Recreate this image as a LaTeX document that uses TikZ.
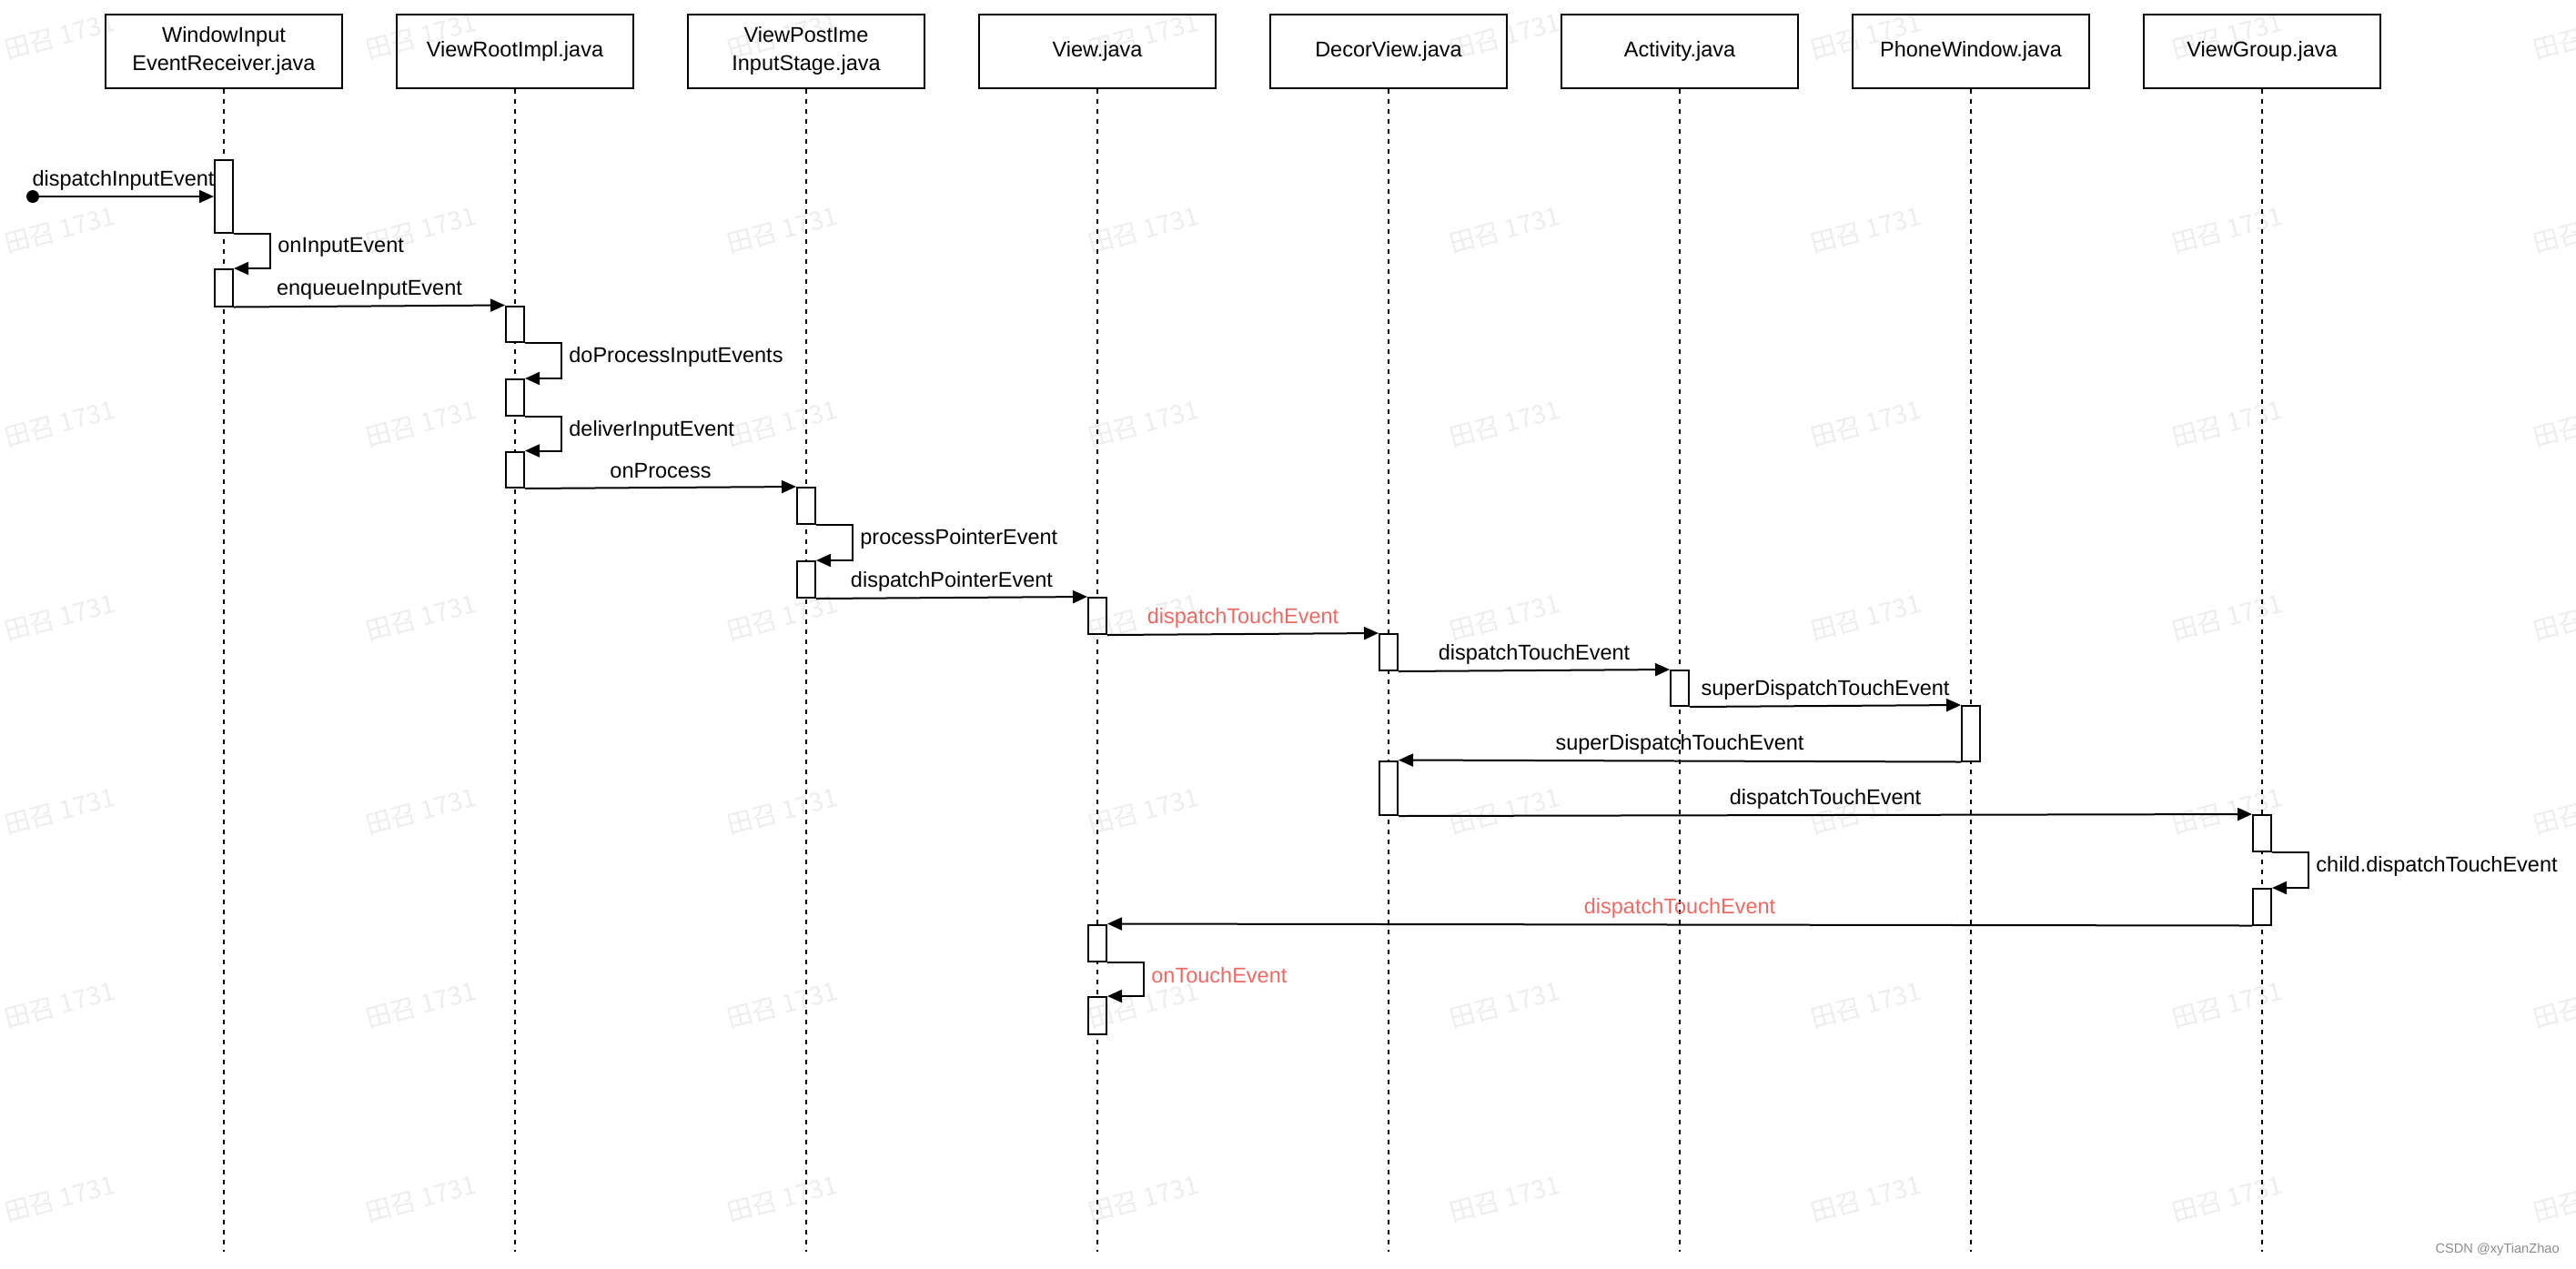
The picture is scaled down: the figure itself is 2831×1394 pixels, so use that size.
\documentclass[tikz,border=0pt]{standalone}
\usepackage{fontspec}
\setmainfont{Liberation Sans}
\newfontfamily\cjk{Noto Sans CJK SC}
\usetikzlibrary{arrows.meta,fit}
\definecolor{msgred}{RGB}{234,107,102}
\tikzset{
  txt/.style={font=\fontsize{11.75pt}{15.5pt}\selectfont},
  head/.style={txt, draw, line width=1pt, minimum width=130pt, minimum height=40.5pt, align=center, inner sep=0pt},
  lifeline/.style={line width=0.9pt, dash pattern=on 2.5pt off 3pt},
  act/.style={draw, line width=1pt, fill=white, inner sep=0pt},
  msg/.style={line width=1pt, -{Triangle[length=8pt,width=7pt]}},
  lbl/.style={txt, midway, yshift=9pt, inner sep=0pt},
  selflbl/.style={txt, anchor=west, inner sep=0pt},
  wm/.style={font=\cjk\fontsize{14pt}{14pt}\selectfont, text=black, text opacity=0.07, rotate=15, inner sep=0pt},
}
\begin{document}
\begin{tikzpicture}[x=0.5pt,y=-0.5pt]
\useasboundingbox (0,0) rectangle (2831,1394);
\fill[white] (0,0) rectangle (2831,1394);

% headers
\node[head] (h1) at (246,56.2) {WindowInput\\EventReceiver.java};
\node[head] (h2) at (566,56.2) {ViewRootImpl.java};
\node[head] (h3) at (886,56.2) {ViewPostIme\\InputStage.java};
\node[head] (h4) at (1206,56.2) {View.java};
\node[head] (h5) at (1526,56.2) {DecorView.java};
\node[head] (h6) at (1846,56.2) {Activity.java};
\node[head] (h7) at (2166,56.2) {PhoneWindow.java};
\node[head] (h8) at (2486,56.2) {ViewGroup.java};

% lifelines
\coordinate (bot) at (0,1376);
\foreach \i in {1,...,8}{
  \draw[lifeline] (h\i.south) -- (h\i.south |- bot);
}

% activations
\node[act, fit={(236,176)(256,256)}] (a1) {};
\node[act, fit={(236,296)(256,336.5)}] (a2) {};
\node[act, fit={(556,336.5)(576,376)}] (a3) {};
\node[act, fit={(556,417)(576,457)}] (a4) {};
\node[act, fit={(556,496.5)(576,536)}] (a5) {};
\node[act, fit={(876,536)(896,576)}] (a6) {};
\node[act, fit={(876,617)(896,657)}] (a7) {};
\node[act, fit={(1196,657)(1216,697)}] (a8) {};
\node[act, fit={(1516,697)(1536,737)}] (a9) {};
\node[act, fit={(1836,737)(1856,776)}] (a10) {};
\node[act, fit={(2156,776)(2176,836.5)}] (a11) {};
\node[act, fit={(1516,836.5)(1536,896)}] (a12) {};
\node[act, fit={(2476,896)(2496,936)}] (a13) {};
\node[act, fit={(2476,977)(2496,1016.5)}] (a14) {};
\node[act, fit={(1196,1016.5)(1216,1056.5)}] (a15) {};
\node[act, fit={(1196,1096)(1216,1136.5)}] (a16) {};

% start point
\coordinate (s0) at (36,216);
\fill (s0) circle (3.5pt);
\draw[msg] (s0) -- node[lbl]{dispatchInputEvent} (s0 -| a1.west);

% self call onInputEvent
\draw[msg] (a1.south east) -- ++(40,0) |- (a2.north east);
\path (a1.south east) ++(48,15) node[selflbl] (l2) {onInputEvent};

\draw[msg] (a2.south east) -- node[lbl]{enqueueInputEvent} (a3.north west);

\draw[msg] (a3.south east) -- ++(40,0) |- (a4.north east);
\path (a3.south east) ++(48,15) node[selflbl] (l4) {doProcessInputEvents};

\draw[msg] (a4.south east) -- ++(40,0) |- (a5.north east);
\path (a4.south east) ++(48,15) node[selflbl] (l5) {deliverInputEvent};

\draw[msg] (a5.south east) -- node[lbl]{onProcess} (a6.north west);

\draw[msg] (a6.south east) -- ++(40,0) |- (a7.north east);
\path (a6.south east) ++(48,15) node[selflbl] (l7) {processPointerEvent};

\draw[msg] (a7.south east) -- node[lbl]{dispatchPointerEvent} (a8.north west);

\draw[msg] (a8.south east) -- node[lbl, text=msgred]{dispatchTouchEvent} (a9.north west);

\draw[msg] (a9.south east) -- node[lbl]{dispatchTouchEvent} (a10.north west);

\draw[msg] (a10.south east) -- node[lbl]{superDispatchTouchEvent} (a11.north west);

\draw[msg] (a11.south west) -- node[lbl]{superDispatchTouchEvent} (a12.north east);

\draw[msg] (a12.south east) -- node[lbl]{dispatchTouchEvent} (a13.north west);

\draw[msg] (a13.south east) -- ++(40,0) |- (a14.north east);
\path (a13.south east) ++(48,15) node[selflbl] (l14) {child.dispatchTouchEvent};

\draw[msg] (a14.south west) -- node[lbl, text=msgred]{dispatchTouchEvent} (a15.north east);

\draw[msg] (a15.south east) -- ++(40,0) |- (a16.north east);
\path (a15.south east) ++(48,15) node[selflbl, text=msgred] (l16) {onTouchEvent};

% credit
\node[anchor=east, text=black!45, font=\fontsize{7.3pt}{9pt}\selectfont, inner sep=0pt] (csdn) at (2813,1374) {CSDN @xyTianZhao};

% watermark
\foreach \c/\x in {0/66,1/463,2/860,3/1257,4/1654,5/2051,6/2448,7/2845}{
  \foreach \r/\y in {0/40,1/253,2/466,3/679,4/892,5/1105,6/1318}{
    \node[wm] (wm-\c-\r) at (\x,\y) {田召 1731};
  }
}
\end{tikzpicture}
\end{document}
